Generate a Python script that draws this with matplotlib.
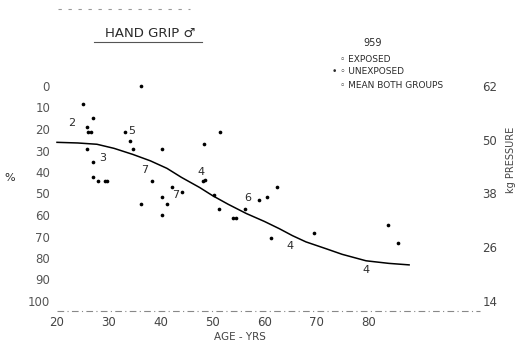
import matplotlib
matplotlib.use("Agg")
import matplotlib.pyplot as plt
from matplotlib.lines import Line2D

# ---- data ----
pts_age = [25.0, 36.2, 26.9, 25.8, 25.9, 26.5, 25.8, 26.9, 26.9, 27.9, 29.2, 29.7,
           33.1, 34.0, 34.6, 40.2, 38.3, 36.2, 40.2, 42.1, 44.2, 41.2, 40.2, 48.3,
           51.5, 48.2, 48.5, 50.2, 51.2, 54.0, 54.6, 56.3, 59.0, 60.4, 62.5, 61.3,
           69.6, 83.8, 85.8]
pts_pct = [8.4, 0.0, 15.0, 19.0, 21.5, 21.5, 29.4, 35.5, 42.5, 44.4, 44.4, 44.4,
           21.5, 25.7, 29.4, 29.4, 44.4, 54.7, 51.4, 47.2, 49.5, 55.1, 59.8, 27.1,
           21.5, 44.4, 43.6, 50.9, 57.0, 61.2, 61.2, 57.0, 52.8, 51.4, 47.2, 70.6,
           68.2, 64.5, 72.9]

mean_age = [22.9, 28.8, 34.4, 36.9, 42.9, 47.7, 56.7, 65.0, 79.6]
mean_pct = [17.3, 33.6, 21.0, 39.3, 50.9, 40.2, 51.9, 74.3, 85.5]
mean_lab = ["2", "3", "5", "7", "7", "4", "6", "4", "4"]

curve_age = [20, 24, 27.7, 31, 34.6, 38, 41.2, 44, 47.5, 50, 53, 56.5, 60, 62.9,
             65.4, 68, 71.9, 75, 79.6, 84, 87.9]
curve_pct = [26.2, 26.5, 27.1, 29.0, 31.8, 34.8, 38.3, 42.5, 47.2, 51.0, 55.0, 59.3,
             63.0, 66.4, 69.6, 72.5, 75.7, 78.3, 81.3, 82.5, 83.2]

pct_ticks = [0, 10, 20, 30, 40, 50, 60, 70, 80, 90, 100]
pct_labels = ["0", "10", "20", "30", "40", "50", "60", "70", "80", "90", "100"]
age_ticks = [20, 30, 40, 50, 60, 70, 80]
kg_ticks = [62, 50, 38, 26, 14]

INK = "#2a2a2a"
W, H = 524, 348
fig = plt.figure(figsize=(W / 100, H / 100), dpi=100)
fig.patch.set_facecolor("white")

# axes: age 20 -> px 57, age 90 -> px 420 ; pct 0 -> py 86, 100 -> py 301
ax = fig.add_axes([57 / W, (H - 301) / H, (420 - 57) / W, (301 - 86) / H])
ax.set_xlim(20, 90)
ax.set_ylim(100, 0)
for s in ax.spines.values():
    s.set_visible(False)

ax.plot(curve_age, curve_pct, color="black", lw=1.1, clip_on=False)
ax.scatter(pts_age, pts_pct, s=7, color="black", zorder=3, clip_on=False, linewidths=0)
for a, p, t in zip(mean_age, mean_pct, mean_lab):
    ax.text(a, p, t, fontsize=8, color=INK, ha="center", va="center")

ax.set_yticks(pct_ticks)
ax.set_yticklabels(pct_labels)
ax.set_xticks(age_ticks)
ax.tick_params(axis="y", length=0, pad=5, labelsize=8.5, labelcolor="#555555")
ax.tick_params(axis="x", length=0, pad=11, labelsize=8.5, labelcolor="#444444")

# right axis (kg pressure): kg = 62 - 0.48 * pct
ax2 = ax.twinx()
ax2.set_ylim(62 - 0.48 * 100, 62)
ax2.set_yticks(kg_ticks)
ax2.tick_params(axis="y", length=0, pad=45, labelsize=8.5, labelcolor="#444444")
for s in ax2.spines.values():
    s.set_visible(False)

# faint dashed baseline
fig.add_artist(Line2D([57 / W, 480 / W], [(H - 311) / H] * 2, color="#888888",
                      lw=0.8, ls=(0, (6, 3, 1, 3))))
fig.add_artist(Line2D([58 / W, 190 / W], [(H - 9) / H] * 2, color="#999999",
                      lw=0.8, ls=(0, (3, 6))))

# title with underline
fig.text(150 / W, (H - 33) / H, "HAND GRIP \u2642", fontsize=9.5, color=INK,
         ha="center", va="center")
fig.add_artist(Line2D([94 / W, 202 / W], [(H - 42) / H] * 2, color="#555555", lw=0.8))

# legend block
fig.text(373 / W, (H - 43) / H, "959", fontsize=7, color=INK, ha="center", va="center")
fig.text(340 / W, (H - 59) / H, "\u25e6 EXPOSED", fontsize=6.5, color=INK, va="center")
fig.text(332 / W, (H - 72) / H, "\u2022 \u25e6 UNEXPOSED", fontsize=6.5, color=INK, va="center")
fig.text(340 / W, (H - 86) / H, "\u25e6 MEAN BOTH GROUPS", fontsize=6.5, color=INK, va="center")

# axis labels
fig.text(10 / W, (H - 178) / H, "%", fontsize=8, color=INK, ha="center", va="center")
fig.text(240 / W, (H - 337) / H, "AGE - YRS", fontsize=7.5, color="#444444",
         ha="center", va="center")
fig.text(511 / W, (H - 160) / H, "kg PRESSURE", fontsize=7, color="#444444",
         ha="center", va="center", rotation=90)

fig.savefig("out.png", dpi=100, facecolor="white")
